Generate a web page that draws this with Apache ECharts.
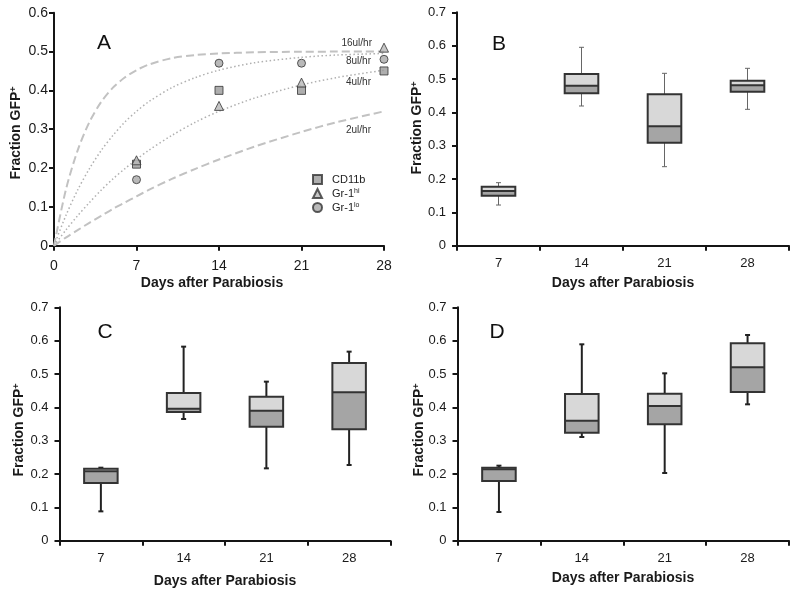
<!DOCTYPE html>
<html>
<head>
<meta charset="utf-8">
<script src="https://cdn.jsdelivr.net/npm/echarts@6/dist/echarts.min.js"></script>
<style>html,body{margin:0;padding:0;background:#fff}#c{width:800px;height:595px}</style>
</head>
<body>
<div id="c"></div>
<script>
// ---------- Panel A data ----------
const scatterDays = [7, 14, 21, 28];
const cd11b = [0.21, 0.40, 0.40, 0.45];
const gr1hi = [0.22, 0.36, 0.42, 0.51];
const gr1lo = [0.17, 0.47, 0.47, 0.48];

const curveDays = [0, 1, 2, 3, 4, 5, 6, 7, 8, 10, 12, 14, 17, 21, 24, 28];
const rate16 = [0, 0.143, 0.245, 0.318, 0.370, 0.407, 0.433, 0.452, 0.466, 0.483, 0.491, 0.495, 0.498, 0.4995, 0.4998, 0.4999];
const rate8  = [0, 0.077, 0.143, 0.198, 0.245, 0.284, 0.318, 0.346, 0.370, 0.407, 0.433, 0.452, 0.471, 0.485, 0.491, 0.495];
const rate4  = [0, 0.040, 0.077, 0.111, 0.143, 0.172, 0.198, 0.222, 0.245, 0.284, 0.318, 0.346, 0.380, 0.414, 0.433, 0.452];
const rate2  = [0, 0.021, 0.040, 0.059, 0.077, 0.095, 0.111, 0.127, 0.143, 0.172, 0.198, 0.222, 0.255, 0.293, 0.318, 0.346];
const curveLabels = ['16ul/hr', '8ul/hr', '4ul/hr', '2ul/hr'];

// ---------- Panels B, C, D data: [min, Q1, median, Q3, max] ----------
const boxCategories = ['7', '14', '21', '28'];
const boxB = [
  [0.122, 0.150, 0.164, 0.177, 0.189],
  [0.419, 0.457, 0.480, 0.515, 0.595],
  [0.237, 0.309, 0.358, 0.454, 0.517],
  [0.409, 0.462, 0.481, 0.495, 0.532]
];
const boxC = [
  [0.088, 0.173, 0.208, 0.216, 0.219],
  [0.365, 0.386, 0.396, 0.443, 0.582],
  [0.217, 0.342, 0.390, 0.432, 0.477],
  [0.227, 0.334, 0.445, 0.533, 0.567]
];
const boxD = [
  [0.086, 0.179, 0.214, 0.219, 0.225],
  [0.311, 0.324, 0.360, 0.440, 0.589],
  [0.203, 0.349, 0.404, 0.441, 0.502],
  [0.409, 0.446, 0.520, 0.592, 0.617]
];
const yTitle = '{a|Fraction GFP}{s|+}';
const xTitle = 'Days after Parabiosis';

// ---------- chart ----------
const FONT = '"Liberation Sans", Arial, Helvetica, sans-serif';
const chart = echarts.init(document.getElementById('c'), null, {renderer: 'canvas'});

const axisLine = {show: true, lineStyle: {color: '#151515', width: 2}};
const axisTick = {show: true, length: 5, inside: false, lineStyle: {color: '#151515', width: 2}};

function yAxisCfg(gi, max, fs, margin) {
  return {type: 'value', gridIndex: gi, min: 0, max: max, interval: 0.1,
    axisLine: axisLine, axisTick: axisTick, splitLine: {show: false},
    axisLabel: {fontFamily: FONT, fontSize: fs, color: '#1a1a1a', margin: margin}};
}
function catAxisCfg(gi) {
  return {type: 'category', gridIndex: gi, data: boxCategories, boundaryGap: true,
    axisLine: axisLine, axisTick: Object.assign({}, axisTick, {alignWithLabel: false, interval: 0}),
    splitLine: {show: false},
    axisLabel: {fontFamily: FONT, fontSize: 13, color: '#1a1a1a', margin: 11}};
}

function boxRender(wColor, wWidth) {
  return function (params, api) {
    const i = api.value(0);
    const pMin = api.coord([i, api.value(1)]);
    const pQ1 = api.coord([i, api.value(2)]);
    const pMed = api.coord([i, api.value(3)]);
    const pQ3 = api.coord([i, api.value(4)]);
    const pMax = api.coord([i, api.value(5)]);
    const bw = api.size([1, 0])[0] * 0.405;
    const x = pQ1[0];
    const L = x - bw / 2;
    const cap = 2.5;
    const ws = {stroke: wColor, lineWidth: wWidth};
    return {type: 'group', children: [
      {type: 'line', shape: {x1: x, y1: pQ3[1], x2: x, y2: pMax[1]}, style: ws},
      {type: 'line', shape: {x1: x - cap, y1: pMax[1], x2: x + cap, y2: pMax[1]}, style: ws},
      {type: 'line', shape: {x1: x, y1: pQ1[1], x2: x, y2: pMin[1]}, style: ws},
      {type: 'line', shape: {x1: x - cap, y1: pMin[1], x2: x + cap, y2: pMin[1]}, style: ws},
      {type: 'rect', shape: {x: L, y: pMed[1], width: bw, height: pQ1[1] - pMed[1]}, style: {fill: '#a5a5a5'}},
      {type: 'rect', shape: {x: L, y: pQ3[1], width: bw, height: pMed[1] - pQ3[1]}, style: {fill: '#d8d8d8'}},
      {type: 'rect', shape: {x: L, y: pQ3[1], width: bw, height: pQ1[1] - pQ3[1]}, style: {fill: 'none', stroke: '#333', lineWidth: 2}},
      {type: 'line', shape: {x1: L, y1: pMed[1], x2: L + bw, y2: pMed[1]}, style: {stroke: '#333', lineWidth: 2}}
    ]};
  };
}
function boxSeries(gi, data, wColor, wWidth) {
  return {type: 'custom', xAxisIndex: gi, yAxisIndex: gi,
    renderItem: boxRender(wColor, wWidth),
    encode: {x: 0, y: [1, 2, 3, 4, 5]},
    data: data.map((d, i) => [i].concat(d)), clip: false, silent: true};
}
function zip(xs, ys) { return xs.map((x, i) => [x, ys[i]]); }

function curve(ys, dashed) {
  return {type: 'line', xAxisIndex: 0, yAxisIndex: 0, data: zip(curveDays, ys), smooth: 0.3,
    showSymbol: false, symbol: 'none', silent: true, z: 1,
    lineStyle: dashed ? {color: '#c2c2c2', width: 2, type: [8, 4]} : {color: '#b0b0b0', width: 1.5, type: [1.5, 2.5]}};
}
function pts(name, ys, symbol, fill, size) {
  return {type: 'scatter', name: name, xAxisIndex: 0, yAxisIndex: 0, data: zip(scatterDays, ys),
    symbol: symbol, symbolSize: size, clip: false, z: 5,
    itemStyle: {color: fill, borderColor: '#333', borderWidth: 1}};
}

const titleStyle = {fontFamily: FONT, fontSize: 14, fontWeight: 'bold', fill: '#1a1a1a'};
const richY = {a: {fontFamily: FONT, fontSize: 14, fontWeight: 'bold', fill: '#1a1a1a', color: '#1a1a1a'},
               s: {fontFamily: FONT, fontSize: 9, fontWeight: 'bold', fill: '#1a1a1a', color: '#1a1a1a', verticalAlign: 'top', lineHeight: 10}};
function yTitleEl(x, y) {
  return {type: 'text', x: x, y: y, rotation: Math.PI / 2,
    style: {text: yTitle, rich: richY, align: 'center', verticalAlign: 'middle', fontFamily: FONT, fontSize: 14, fontWeight: 'bold'}};
}
function xTitleEl(x, y) {
  return {type: 'text', x: x, y: y, style: Object.assign({text: xTitle, align: 'center', verticalAlign: 'middle'}, titleStyle)};
}
function panelLetter(t, x, y) {
  return {type: 'text', x: x, y: y, style: {text: t, align: 'center', verticalAlign: 'middle', fontFamily: FONT, fontSize: 21, fill: '#111'}};
}
function curveLabel(t, x, y) {
  return {type: 'text', x: x, y: y, style: {text: t, align: 'right', verticalAlign: 'middle', fontFamily: FONT, fontSize: 10, fill: '#333'}};
}

const option = {
  animation: false,
  backgroundColor: '#fff',
  grid: [
    {left: 54, top: 12.7, width: 330, height: 233},
    {left: 457, top: 12.3, width: 332, height: 233.4},
    {left: 59.5, top: 307.3, width: 331, height: 233.4},
    {left: 457.5, top: 307.3, width: 331.5, height: 233.4}
  ],
  xAxis: [
    {type: 'value', gridIndex: 0, min: 0, max: 28, interval: 7, axisLine: axisLine, axisTick: axisTick,
     splitLine: {show: false}, axisLabel: {fontFamily: FONT, fontSize: 14, color: '#1a1a1a', margin: 13}},
    catAxisCfg(1), catAxisCfg(2), catAxisCfg(3)
  ],
  yAxis: [yAxisCfg(0, 0.6, 14, 6), yAxisCfg(1, 0.7, 13, 11), yAxisCfg(2, 0.7, 13, 11), yAxisCfg(3, 0.7, 13, 11)],
  legend: {
    orient: 'vertical', left: 307, top: 169, itemWidth: 9, itemHeight: 9, itemGap: 3,
    data: ['CD11b', 'Gr-1hi', 'Gr-1lo'],
    formatter: function (n) {
      if (n === 'Gr-1hi') return '{a|Gr-1}{s|hi}';
      if (n === 'Gr-1lo') return '{a|Gr-1}{s|lo}';
      return '{a|' + n + '}';
    },
    textStyle: {fontFamily: FONT, fontSize: 11, color: '#222', padding: [0, 0, 0, 5],
      rich: {a: {fontFamily: FONT, fontSize: 11, color: '#222'},
             s: {fontFamily: FONT, fontSize: 7, color: '#222', verticalAlign: 'top', lineHeight: 8}}}
  },
  series: [
    curve(rate16, true), curve(rate8, false), curve(rate4, false), curve(rate2, true),
    pts('CD11b', cd11b, 'rect', '#9a9a9a', 8),
    pts('Gr-1hi', gr1hi, 'triangle', '#b8b8b8', 9),
    pts('Gr-1lo', gr1lo, 'circle', '#a8a8a8', 8),
    boxSeries(1, boxB, '#666', 1),
    boxSeries(2, boxC, '#222', 2),
    boxSeries(3, boxD, '#222', 2)
  ],
  graphic: [
    panelLetter('A', 104, 43), panelLetter('B', 499, 44), panelLetter('C', 105, 332), panelLetter('D', 497, 332),
    curveLabel(curveLabels[0], 372, 43), curveLabel(curveLabels[1], 371, 61),
    curveLabel(curveLabels[2], 371, 82), curveLabel(curveLabels[3], 371, 130),
    yTitleEl(16, 133), yTitleEl(417, 128), yTitleEl(19, 430), yTitleEl(419, 430),
    xTitleEl(212, 283), xTitleEl(623, 283), xTitleEl(225, 581), xTitleEl(623, 578)
  ]
};
chart.setOption(option);
</script>
</body>
</html>
